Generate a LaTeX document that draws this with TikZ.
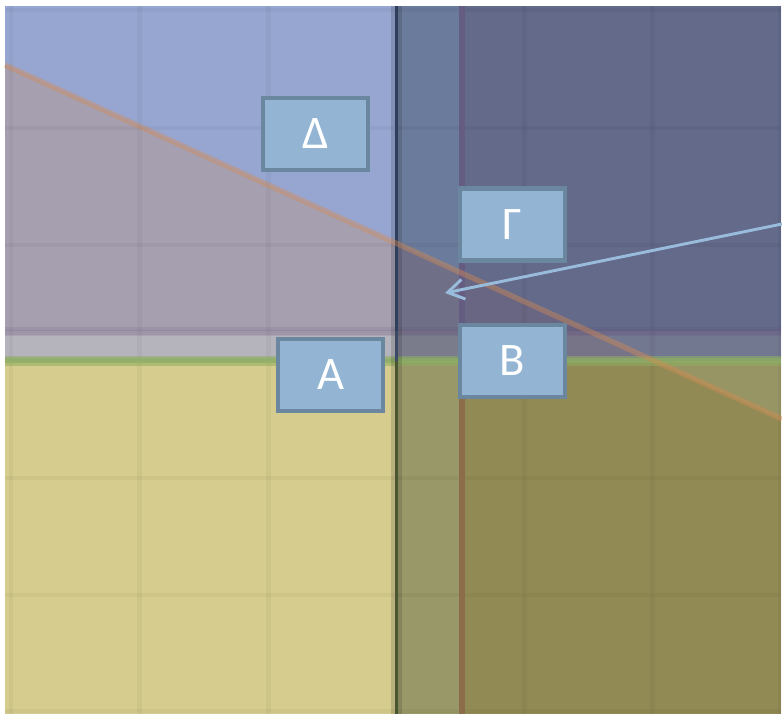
\documentclass[tikz,border=0pt]{standalone}
\usepackage{fontspec}
\setmainfont{Carlito}
\usetikzlibrary{arrows.meta}
\definecolor{cLUa}{HTML}{97A6D0}
\definecolor{cLUb}{HTML}{A59FB0}
\definecolor{cLB}{HTML}{B5B3BB}
\definecolor{cLD}{HTML}{D5CC8E}
\definecolor{cMUa}{HTML}{6B7B9B}
\definecolor{cMUb}{HTML}{6F7088}
\definecolor{cMB}{HTML}{7B7C8B}
\definecolor{cMD}{HTML}{999868}
\definecolor{cRUa}{HTML}{636A8A}
\definecolor{cRUb}{HTML}{696683}
\definecolor{cRBa}{HTML}{737891}
\definecolor{cRBb}{HTML}{787488}
\definecolor{cRDa}{HTML}{979564}
\definecolor{cRDb}{HTML}{928A55}
\definecolor{boxfill}{HTML}{93B5D3}
\definecolor{boxline}{HTML}{6A879F}
\definecolor{arrowcol}{HTML}{9ABCDC}
\definecolor{diagcol}{HTML}{D88A50}
\definecolor{greencol}{HTML}{8DAE62}
\definecolor{purplecol}{HTML}{5A3F70}
\definecolor{vlinetop}{HTML}{655C82}
\definecolor{vlinebot}{HTML}{8C6D4A}
\definecolor{axistop}{HTML}{2E3E5C}
\definecolor{axisband}{HTML}{3D4A66}
\definecolor{axisbot}{HTML}{4A5532}
\tikzset{
  labelbox/.style={draw=boxline, fill=boxfill, line width=3.2pt,
    minimum width=79pt, minimum height=54pt, inner sep=0pt,
    text=white, font=\fontsize{35}{40}\selectfont},
  gridline/.style={draw=black, draw opacity=0.035, line width=3.5pt},
  axisline/.style={line width=2.6pt},
}
\begin{document}
\begin{tikzpicture}[x=0.75pt,y=-0.75pt]
\useasboundingbox (0,0) rectangle (782,715);
\fill[white] (0,0) rectangle (782,715);
% cells above diagonal
\fill[cLUa] (5,6) rectangle (396,331);
\fill[cLB] (5,331) rectangle (396,361);
\fill[cLD] (5,361) rectangle (396,714);
\fill[cMUa] (396,6) rectangle (461,331);
\fill[cMB] (396,331) rectangle (461,361);
\fill[cMD] (396,361) rectangle (461,714);
\fill[cRUa] (461,6) rectangle (781,331);
\fill[cRBa] (461,331) rectangle (781,361);
\fill[cRDa] (461,361) rectangle (781,714);
% cells below diagonal
\begin{scope}
\clip (5,65) -- (782,420) -- (782,714) -- (5,714) -- cycle;
\fill[cLUb] (5,6) rectangle (396,331);
\fill[cMUb] (396,6) rectangle (461,331);
\fill[cRUb] (461,6) rectangle (781,331);
\fill[cRBb] (461,331) rectangle (781,361);
\fill[cRDb] (461,361) rectangle (781,714);
\end{scope}
% grid
\foreach \gx in {11,139.8,268.6,524.2,652.8,780} \draw[gridline] (\gx,6) -- (\gx,714);
\foreach \gy in {10,128,245,478,595,711} \draw[gridline] (5,\gy) -- (781,\gy);
% horizontal bands
\draw[draw=purplecol, draw opacity=0.12, line width=7pt] (5,331.5) -- (781,331.5);
\draw[draw=purplecol, draw opacity=0.12, line width=3.8pt] (5,332.5) -- (781,332.5);
\draw[draw=greencol, draw opacity=0.55, line width=8pt] (5,361) -- (781,361);
\draw[draw=greencol, draw opacity=0.7, line width=4pt] (5,360.5) -- (781,360.5);
% vertical lines
\draw[draw=black, draw opacity=0.13, line width=8pt] (396.5,6) -- (396.5,714);
\draw[axisline, draw=axistop] (396.5,6) -- (396.5,331);
\draw[axisline, draw=axisband] (396.5,331) -- (396.5,361);
\draw[axisline, draw=axisbot] (396.5,361) -- (396.5,714);
\draw[draw=vlinetop, line width=4.5pt] (461.5,6) -- (461.5,331);
\draw[draw=vlinebot, line width=4.5pt] (461.5,361) -- (461.5,714);
% diagonal
\draw[draw=diagcol, draw opacity=0.42, line width=4pt] (5,65) -- (782,419);
% label boxes
\node[labelbox] (delta) at (315.5,134) {Δ};
\node[labelbox] (gamma) at (512.5,224.5) {Γ};
\node[labelbox] (a) at (330.5,375) {A};
\node[labelbox] (b) at (512.5,361) {B};
% arrow
\coordinate (arrowstart) at (782,224);
\coordinate (arrowtip) at (445,293);
\draw[draw=arrowcol, line width=2.2pt, -{Straight Barb[length=12pt,width=15pt]}] (arrowstart) -- (arrowtip);
\end{tikzpicture}
\end{document}
